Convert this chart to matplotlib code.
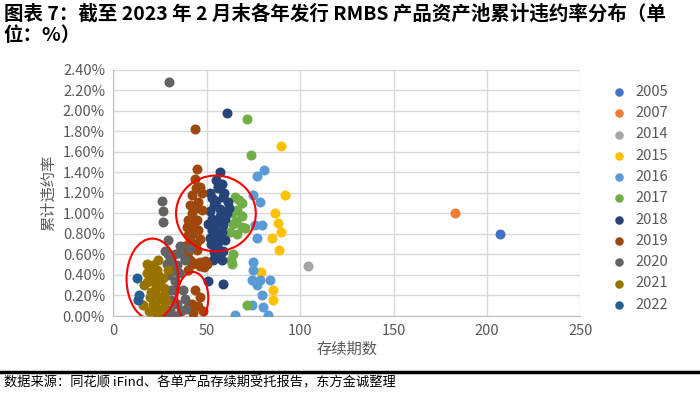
import matplotlib
matplotlib.use("Agg")
import matplotlib.pyplot as plt
from matplotlib.patches import Ellipse
from matplotlib.ticker import FuncFormatter

plt.rcParams['font.family'] = ['Noto Sans CJK SC', 'DejaVu Sans']

years = ['2005', '2007', '2014', '2015', '2016', '2017', '2018', '2019', '2020', '2021', '2022']
colors = ['#4472C4', '#ED7D31', '#A5A5A5', '#FFC000', '#5B9BD5', '#70AD47',
          '#264478', '#9E480E', '#636363', '#997300', '#255E91']

# 存续期数 / 累计违约率(%)
x2005 = [207]
y2005 = [0.80]
x2007 = [183]
y2007 = [1.00]
x2014 = [104]
y2014 = [0.49]
x2015 = [89.6, 91.9, 86.6, 88.0, 89.8, 84.8, 88.9, 78.9, 85.6, 85.6]
y2015 = [1.66, 1.18, 1.00, 0.91, 0.82, 0.76, 0.64, 0.43, 0.25, 0.16]
x2016 = [80.7, 76.7, 74.9, 78.3, 75.8, 79.4, 76.7, 74.9, 74.9, 74.0, 78.5, 83.9,
         76.7, 79.4, 74.0, 80.3, 83.0, 65.0]
y2016 = [1.42, 1.37, 1.18, 1.11, 0.89, 0.89, 0.76, 0.53, 0.45, 0.35, 0.35, 0.35,
         0.30, 0.20, 0.11, 0.09, 0.01, 0.01]
x2017 = [71.7, 73.7, 65.1, 68.7, 66.0, 63.4, 68.7, 64.3, 68.7, 70.5, 62.5, 66.0,
         64.2, 63.3, 63.0, 71.4, 67.0, 65.5]
y2017 = [1.92, 1.57, 1.16, 1.10, 1.03, 1.00, 0.98, 0.90, 0.87, 0.86, 0.82, 0.80,
         0.60, 0.51, 0.55, 0.11, 1.13, 0.93]
x2018 = [60.7, 57.1, 56.2, 58.0, 56.0, 51.7, 58.9, 61.6, 53.6, 57.1, 51.7, 60.7,
         55.3, 50.8, 58.9, 52.6, 56.2, 51.7, 59.8, 55.3, 57.1, 53.5, 58.0, 58.8,
         50.8, 58.8, 53.0, 55.0, 57.0, 54.0, 58.0, 52.0, 56.0, 60.0, 62.0, 53.0,
         59.0, 55.0, 54.0, 56.0]
y2018 = [1.98, 1.40, 1.27, 1.29, 1.25, 1.20, 1.16, 1.11, 1.08, 1.04, 1.02, 1.00,
         0.94, 0.90, 0.89, 0.84, 0.79, 0.76, 0.74, 0.68, 0.60, 0.55, 0.55, 0.63,
         0.34, 0.31, 1.15, 1.12, 0.98, 0.87, 0.82, 0.70, 0.72, 0.95, 1.05, 0.95,
         1.20, 1.33, 0.62, 0.58]
x2019 = [43.7, 44.6, 43.7, 46.4, 47.2, 45.5, 43.7, 42.0, 40.1, 39.2, 40.1, 41.0,
         38.3, 39.2, 45.5, 46.4, 44.6, 47.2, 38.3, 41.9, 46.6, 49.3, 41.0, 46.4,
         50.0, 40.1, 48.5, 43.7, 46.4, 41.9, 45.5, 48.1, 40.1, 42.8, 42.0, 44.0,
         41.0, 43.0, 42.0, 44.0, 40.0, 45.0, 43.0]
y2019 = [1.82, 1.43, 1.34, 1.26, 1.20, 1.11, 1.05, 1.00, 0.94, 0.87, 0.79, 0.73,
         0.68, 0.58, 0.84, 0.75, 0.94, 1.03, 0.56, 0.51, 0.49, 0.54, 0.55, 0.53,
         0.51, 0.45, 0.48, 0.25, 0.19, 0.12, 0.10, 0.05, 0.09, 0.03, 1.18, 1.25,
         1.08, 0.88, 0.80, 0.70, 0.62, 0.64, 0.52]
x2020 = [29.7, 25.8, 26.4, 26.4, 29.4, 35.6, 27.6, 30.3, 32.0, 32.9, 31.0, 31.0,
         30.3, 32.9, 39.1, 41.0, 38.3, 28.5, 35.7, 37.4, 38.3, 28.5, 33.0, 29.0,
         34.0, 30.0, 35.0, 33.0, 34.0, 36.0]
y2020 = [2.28, 1.12, 1.02, 0.92, 0.74, 0.68, 0.63, 0.55, 0.45, 0.34, 0.25, 0.16,
         0.06, 0.00, 0.07, 0.66, 0.55, 0.51, 0.61, 0.25, 0.17, 0.00, 0.60, 0.60,
         0.50, 0.40, 0.42, 0.25, 0.12, 0.05]
x2021 = [17.8, 24.0, 17.8, 23.1, 20.5, 26.7, 16.6, 22.7, 27.1, 19.4, 25.6, 16.0,
         22.2, 26.8, 23.1, 28.0, 29.4, 20.0, 19.0, 21.0, 24.0, 18.0, 22.0, 25.0,
         20.0, 23.0, 27.0, 19.0, 25.0, 21.0]
y2021 = [0.51, 0.55, 0.42, 0.45, 0.37, 0.37, 0.30, 0.27, 0.27, 0.19, 0.17, 0.11,
         0.10, 0.08, 0.02, 0.15, 0.45, 0.05, 0.45, 0.50, 0.40, 0.33, 0.33, 0.30,
         0.23, 0.20, 0.20, 0.05, 0.04, 0.12]
x2022 = [12.4, 13.8, 13.3]
y2022 = [0.37, 0.20, 0.16]

xs = [x2005, x2007, x2014, x2015, x2016, x2017, x2018, x2019, x2020, x2021, x2022]
ys = [y2005, y2007, y2014, y2015, y2016, y2017, y2018, y2019, y2020, y2021, y2022]

# 红圈 (中心x, 中心y, 宽, 高)
circles = [(54.9, 1.00, 42.7, 0.74), (20.9, 0.36, 27.7, 0.79), (42.5, 0.175, 16.6, 0.51)]

fig = plt.figure(figsize=(7, 3.95), dpi=100)
ax = fig.add_axes([0.162, 0.2, 0.667, 0.623])

for yr, c, x, y in zip(years, colors, xs, ys):
    ax.scatter(x, y, s=52, color=c, label=yr, linewidths=0, zorder=3)

for cx, cy, w, h in circles:
    ax.add_patch(Ellipse((cx, cy), w, h, fill=False, edgecolor='#FF0000', lw=1.5, zorder=4))

ax.set_xlim(0, 250)
ax.set_ylim(0, 2.4)
ax.set_xticks(range(0, 251, 50))
ax.set_yticks([i * 0.2 for i in range(13)])
ax.yaxis.set_major_formatter(FuncFormatter(lambda v, p: '%.2f%%' % v))
ax.grid(True, color='#D9D9D9', lw=1)
ax.set_axisbelow(True)
for s in ['top', 'right']:
    ax.spines[s].set_visible(False)
for s in ['left', 'bottom']:
    ax.spines[s].set_color('#BFBFBF')
ax.tick_params(length=0, colors='#595959', labelsize=10.5, pad=6)
ax.set_xlabel('存续期数', color='#595959', fontsize=11, labelpad=2)
ax.set_ylabel('累计违约率', color='#595959', fontsize=11, labelpad=4)

leg = fig.legend(loc='upper left', bbox_to_anchor=(0.855, 0.8), frameon=False,
                 fontsize=10.5, labelspacing=0.5, handletextpad=0.1,
                 markerscale=0.85, borderaxespad=0)
for t in leg.get_texts():
    t.set_color('#595959')

fig.text(0.005, 0.99, '图表 7：截至 2023 年 2 月末各年发行 RMBS 产品资产池累计违约率分布（单\n位：%）',
         fontsize=14, fontweight='bold', va='top', ha='left', linespacing=1.2)
fig.add_artist(plt.Line2D([0.0, 0.997], [0.058, 0.058], color='black', lw=2.5))
fig.text(0.005, 0.03, '数据来源：同花顺 iFind、各单产品存续期受托报告，东方金诚整理',
         fontsize=9.5, va='center', ha='left')

fig.savefig('out.png', dpi=100)
